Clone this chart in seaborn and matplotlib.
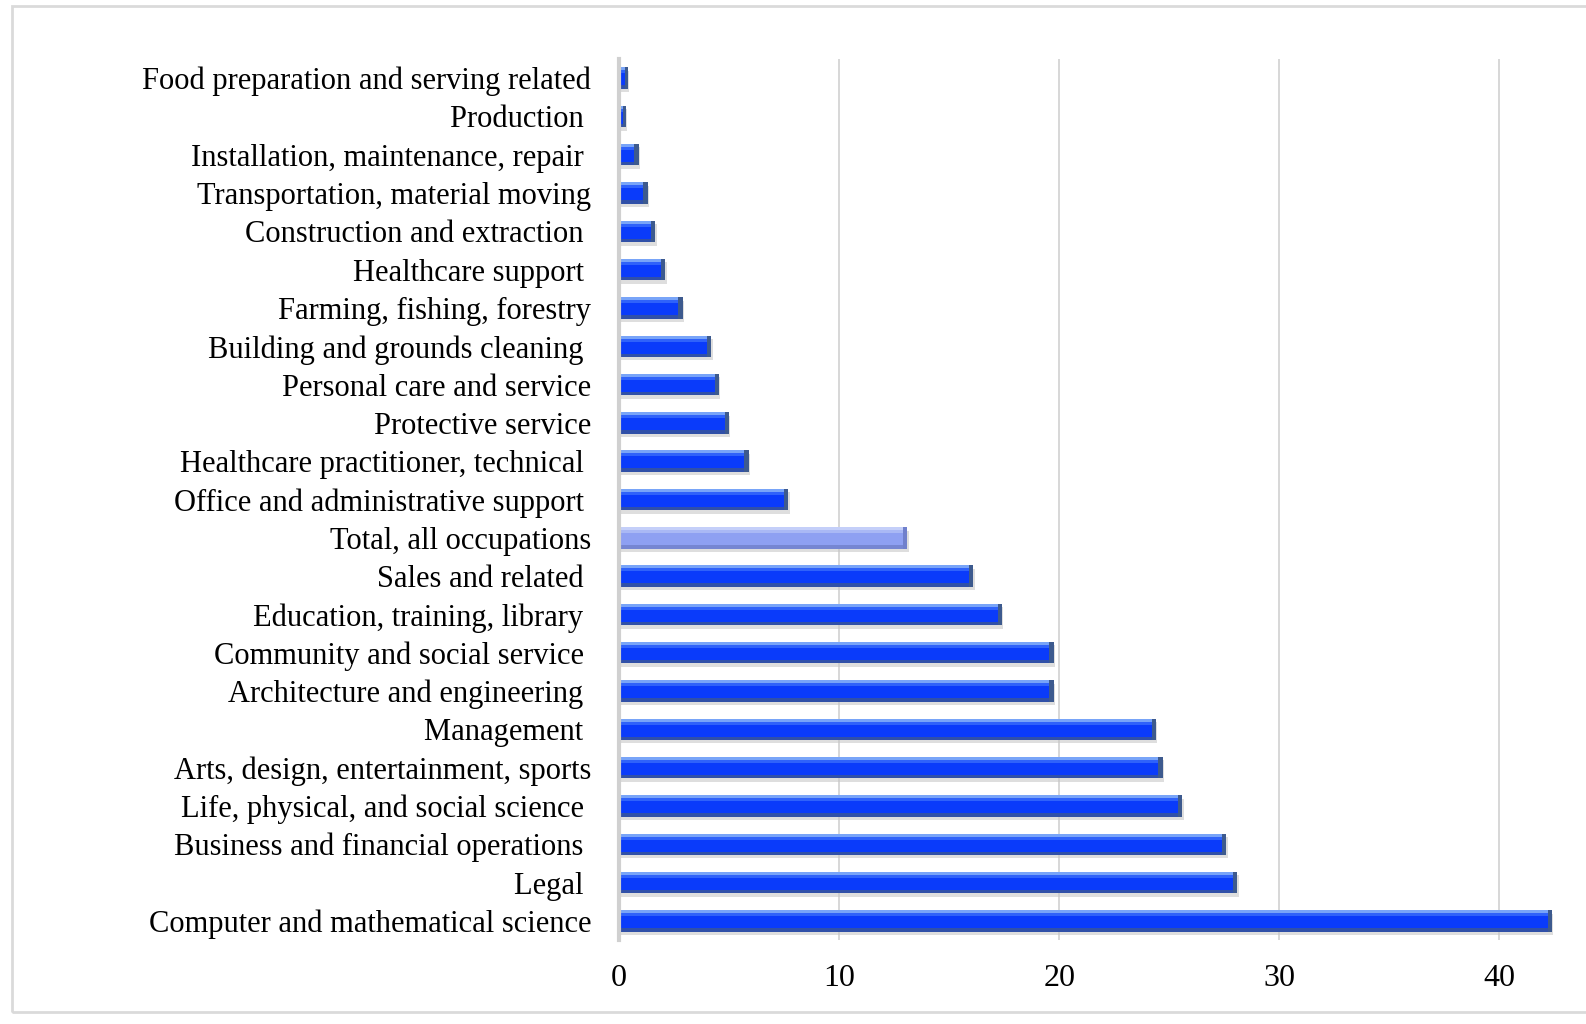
import matplotlib
matplotlib.use("Agg")
import matplotlib.pyplot as plt
from matplotlib.patches import Rectangle
import seaborn as sns
import pandas as pd

occupations = [
    "Food preparation and serving related",
    "Production ",
    "Installation, maintenance, repair ",
    "Transportation, material moving",
    "Construction and extraction ",
    "Healthcare support ",
    "Farming, fishing, forestry",
    "Building and grounds cleaning ",
    "Personal care and service",
    "Protective service",
    "Healthcare practitioner, technical ",
    "Office and administrative support ",
    "Total, all occupations",
    "Sales and related ",
    "Education, training, library ",
    "Community and social service ",
    "Architecture and engineering ",
    "Management ",
    "Arts, design, entertainment, sports",
    "Life, physical, and social science ",
    "Business and financial operations ",
    "Legal ",
    "Computer and mathematical science",
]
shares = [0.4, 0.3, 0.9, 1.3, 1.65, 2.1, 2.9, 4.2, 4.55, 5.0, 5.9, 7.7,
          13.1, 16.1, 17.4, 19.75, 19.75, 24.4, 24.7, 25.6, 27.6, 28.1, 42.4]
x_ticks = [0, 10, 20, 30, 40]

total_label = "Total, all occupations"
main_blue = "#0A3BFA"
pale_blue = "#8EA0F2"

df = pd.DataFrame({"occupation": occupations, "share": shares})
palette = {o: (pale_blue if o == total_label else main_blue) for o in occupations}

sns.set_style("white")
plt.rcParams["font.family"] = ["Liberation Serif", "DejaVu Serif"]

fig = plt.figure(figsize=(15.86, 10.24), dpi=100)
ax = fig.add_axes([619 / 1586, 1 - 940 / 1024, (1562 - 619) / 1586, (940 - 59) / 1024])

sns.barplot(data=df, y="occupation", x="share", hue="occupation", palette=palette,
            orient="h", width=0.56, saturation=1, legend=False, ax=ax, zorder=3,
            linewidth=0)

# glossy bar styling: light top band, dark lower band, dark end cap, soft shadow
for patch, occ in zip(ax.patches, occupations):
    x0, y0 = patch.get_x(), patch.get_y()
    w, h = patch.get_width(), patch.get_height()
    pale = occ == total_label
    hi = "#C4CFF9" if pale else "#78A4F8"
    mid = "#A9B8F5" if pale else "#2F62FA"
    lo = "#7686D2" if pale else "#3050A8"
    cap = "#7080CC" if pale else "#3D5A8E"
    ax.add_patch(Rectangle((x0 + 0.06, y0 + 0.09), w, h, color="#C4C4C4", alpha=0.55, zorder=2, lw=0))
    ax.add_patch(Rectangle((x0, y0), w, h * 0.14, color=hi, zorder=4, lw=0))
    ax.add_patch(Rectangle((x0, y0 + h * 0.14), w, h * 0.14, color=mid, zorder=4, lw=0))
    ax.add_patch(Rectangle((x0, y0 + h * 0.84), w, h * 0.16, color=lo, zorder=4, lw=0))
    capw = min(0.2, w * 0.35)
    ax.add_patch(Rectangle((x0 + w - capw, y0), capw, h, color=cap, zorder=5, lw=0))

ax.set_xlim(0, 42.85)
ax.set_ylim(len(occupations) - 0.5, -0.5)
ax.set_xticks(x_ticks)
ax.set_xticklabels([str(t) for t in x_ticks])
ax.xaxis.grid(True, color="#D4D4D4", linewidth=1.3, zorder=0)
ax.set_axisbelow(True)
ax.set_xlabel("")
ax.set_ylabel("")
for s in ["top", "right", "bottom"]:
    ax.spines[s].set_visible(False)
ax.spines["left"].set_color("#D0D0D0")
ax.spines["left"].set_linewidth(3)
ax.spines["left"].set_zorder(6)
ax.tick_params(axis="y", length=0, pad=20, labelsize=22, labelcolor="black")
ax.tick_params(axis="x", length=0, pad=17, labelsize=23, labelcolor="black")

# outer light frame
fig.add_artist(Rectangle((12 / 1586, 1 - 1012 / 1024), 1.0, 1006 / 1024,
                         transform=fig.transFigure, fill=False,
                         edgecolor="#DADADA", linewidth=2))

fig.savefig("out.png", dpi=100)
